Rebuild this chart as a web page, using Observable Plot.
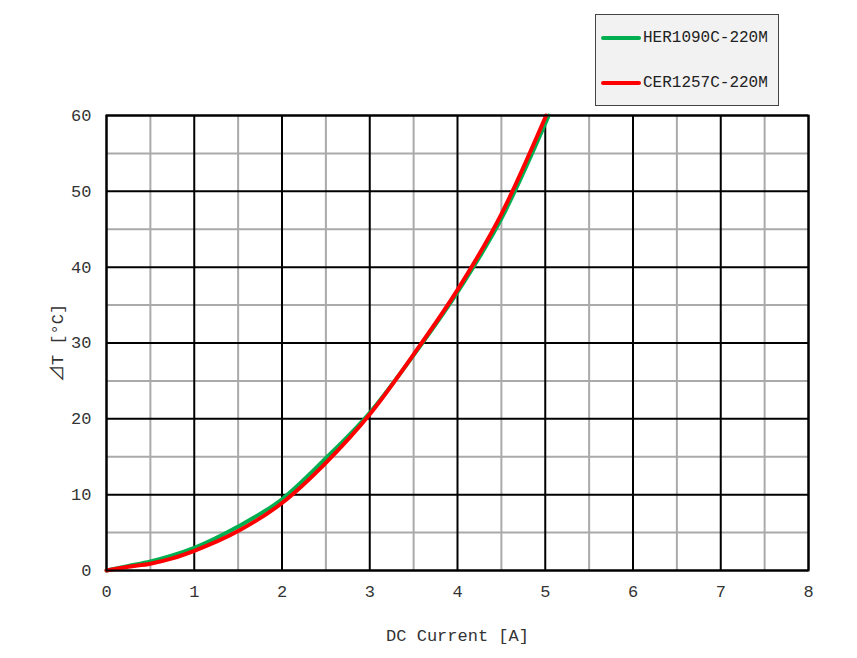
<!DOCTYPE html>
<html>
<head>
<meta charset="utf-8">
<script src="https://cdn.jsdelivr.net/npm/d3@7"></script>
<script src="https://cdn.jsdelivr.net/npm/@observablehq/plot@0.6"></script>
<style>
  html, body { margin: 0; padding: 0; background: #fff; }
  #wrap { position: relative; width: 857px; height: 658px; font-family: "Liberation Mono", "DejaVu Sans Mono", "Noto Sans CJK JP", monospace; }
  #legend { position: absolute; left: 595px; top: 14px; width: 182px; height: 90px; background: #f2f2f2; border: 1px solid #444; }
  .item { position: absolute; left: 5px; height: 20px; display: flex; align-items: center; font-size: 16px; color: #222; }
  .swatch { width: 40px; height: 4px; border-radius: 2px; margin-right: 2px; }
</style>
</head>
<body>
<div id="wrap"><div id="legend"></div></div>
<script>
const seriesNames = ["HER1090C-220M", "CER1257C-220M"];
const seriesColors = ["#00b050", "#ff0000"];
const herCurrent = [0, 0.25, 0.5, 0.75, 1.0, 1.5, 2.0, 2.5, 3.0, 3.5, 4.0, 4.5, 5.04];
const herTemp    = [0, 0.6, 1.2, 2.0, 3.0, 5.8, 9.4, 14.8, 20.8, 28.4, 36.7, 46.4, 60];
const cerCurrent = [0, 0.25, 0.5, 0.75, 1.0, 1.5, 2.0, 2.5, 3.0, 3.5, 4.0, 4.5, 5.01];
const cerTemp    = [0, 0.5, 0.9, 1.6, 2.6, 5.2, 8.9, 14.2, 20.6, 28.5, 37.0, 47.0, 60];
const xTicks = [0, 1, 2, 3, 4, 5, 6, 7, 8];
const yTicks = [0, 10, 20, 30, 40, 50, 60];
const xMinor = [0.5, 1.5, 2.5, 3.5, 4.5, 5.5, 6.5, 7.5];
const yMinor = [5, 15, 25, 35, 45, 55];

const her = herCurrent.map((x, i) => ({x, y: herTemp[i]}));
const cer = cerCurrent.map((x, i) => ({x, y: cerTemp[i]}));

const chart = Plot.plot({
  width: 857,
  height: 658,
  marginLeft: 106,
  marginRight: 49,
  marginTop: 115,
  marginBottom: 88,
  style: { fontFamily: '"Liberation Mono", "DejaVu Sans Mono", "Noto Sans CJK JP", monospace', fontSize: "16px", color: "#333", background: "#fff" },
  x: { domain: [0, 8] },
  y: { domain: [0, 60] },
  marks: [
    Plot.ruleX(xMinor, { stroke: "#aaa", strokeWidth: 2 }),
    Plot.ruleY(yMinor, { stroke: "#aaa", strokeWidth: 2 }),
    Plot.ruleX(xTicks, { stroke: "#000", strokeWidth: 2 }),
    Plot.ruleY(yTicks, { stroke: "#000", strokeWidth: 2 }),
    Plot.axisX(xTicks, { tickSize: 0, tickPadding: 14, fontSize: 17, label: "DC Current [A]", labelAnchor: "center", labelArrow: "none", labelOffset: 70, fill: "#333" }),
    Plot.axisY(yTicks, { tickSize: 0, tickPadding: 15, fontSize: 17, label: "⊿T [°C]", labelAnchor: "center", labelArrow: "none", labelOffset: 56, fill: "#333" }),
    Plot.line(her, { x: "x", y: "y", stroke: seriesColors[0], strokeWidth: 4, curve: "monotone-x" }),
    Plot.line(cer, { x: "x", y: "y", stroke: seriesColors[1], strokeWidth: 4, curve: "monotone-x" }),
    Plot.frame({ stroke: "#000", strokeWidth: 2 })
  ]
});
document.getElementById("wrap").prepend(chart);

const legend = document.getElementById("legend");
seriesNames.forEach((name, i) => {
  const item = document.createElement("div");
  item.className = "item";
  item.style.top = (i === 0 ? 13 : 58) + "px";
  const sw = document.createElement("div");
  sw.className = "swatch";
  sw.style.background = seriesColors[i];
  const t = document.createElement("span");
  t.textContent = name;
  item.append(sw, t);
  legend.append(item);
});
</script>
</body>
</html>
